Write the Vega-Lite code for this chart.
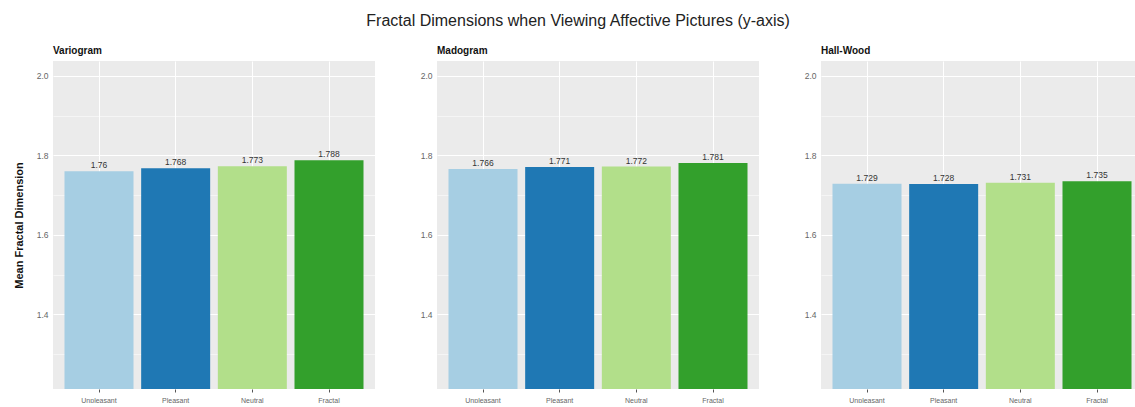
{
  "$schema": "https://vega.github.io/schema/vega-lite/v6.json",
  "title": {
    "text": "Fractal Dimensions when Viewing Affective Pictures (y-axis)",
    "fontSize": 16,
    "fontWeight": "normal",
    "color": "#222222",
    "anchor": "middle",
    "frame": "bounds",
    "offset": 17
  },
  "padding": {"left": 13, "top": 13, "right": 0, "bottom": 0},
  "datasets": {
    "fd": [
      {"method": "Variogram", "condition": "Unpleasant", "mean": 1.76},
      {"method": "Variogram", "condition": "Pleasant", "mean": 1.768},
      {"method": "Variogram", "condition": "Neutral", "mean": 1.773},
      {"method": "Variogram", "condition": "Fractal", "mean": 1.788},
      {"method": "Madogram", "condition": "Unpleasant", "mean": 1.766},
      {"method": "Madogram", "condition": "Pleasant", "mean": 1.771},
      {"method": "Madogram", "condition": "Neutral", "mean": 1.772},
      {"method": "Madogram", "condition": "Fractal", "mean": 1.781},
      {"method": "Hall-Wood", "condition": "Unpleasant", "mean": 1.729},
      {"method": "Hall-Wood", "condition": "Pleasant", "mean": 1.728},
      {"method": "Hall-Wood", "condition": "Neutral", "mean": 1.731},
      {"method": "Hall-Wood", "condition": "Fractal", "mean": 1.735}
    ]
  },
  "data": {"name": "fd"},
  "spacing": 45,
  "hconcat": [
    {
      "width": 322,
      "height": 328,
      "title": {"text": "Variogram", "frame": "group", "anchor": "start"},
      "transform": [{"filter": "datum.method === 'Variogram'"}],
      "encoding": {
        "x": {"field": "condition", "type": "nominal", "sort": ["Unpleasant", "Pleasant", "Neutral", "Fractal"], "title": null,
              "scale": {"paddingInner": 0.1, "paddingOuter": 0.15}},
        "y": {"field": "mean", "type": "quantitative",
              "scale": {"domain": [1.2125, 2.0375], "nice": false, "zero": false},
              "axis": {"title": "Mean Fractal Dimension"}}
      },
      "layer": [
        {"mark": {"type": "bar", "clip": true},
         "encoding": {"y2": {"datum": 0},
                      "color": {"field": "condition", "type": "nominal", "sort": ["Unpleasant", "Pleasant", "Neutral", "Fractal"],
                                "scale": {"domain": ["Unpleasant", "Pleasant", "Neutral", "Fractal"], "range": ["#A6CEE3", "#1F78B4", "#B2DF8A", "#33A02C"]},
                                "legend": null}}},
        {"mark": {"type": "text", "baseline": "bottom", "dy": -1, "fontSize": 8.5, "color": "#333333"},
         "encoding": {"text": {"field": "mean", "type": "quantitative"}}}
      ]
    },
    {
      "width": 322,
      "height": 328,
      "title": {"text": "Madogram", "frame": "group", "anchor": "start"},
      "transform": [{"filter": "datum.method === 'Madogram'"}],
      "encoding": {
        "x": {"field": "condition", "type": "nominal", "sort": ["Unpleasant", "Pleasant", "Neutral", "Fractal"], "title": null,
              "scale": {"paddingInner": 0.1, "paddingOuter": 0.15}},
        "y": {"field": "mean", "type": "quantitative",
              "scale": {"domain": [1.2125, 2.0375], "nice": false, "zero": false},
              "axis": {"title": null}}
      },
      "layer": [
        {"mark": {"type": "bar", "clip": true},
         "encoding": {"y2": {"datum": 0},
                      "color": {"field": "condition", "type": "nominal", "sort": ["Unpleasant", "Pleasant", "Neutral", "Fractal"],
                                "scale": {"domain": ["Unpleasant", "Pleasant", "Neutral", "Fractal"], "range": ["#A6CEE3", "#1F78B4", "#B2DF8A", "#33A02C"]},
                                "legend": null}}},
        {"mark": {"type": "text", "baseline": "bottom", "dy": -1, "fontSize": 8.5, "color": "#333333"},
         "encoding": {"text": {"field": "mean", "type": "quantitative"}}}
      ]
    },
    {
      "width": 322,
      "height": 328,
      "title": {"text": "Hall-Wood", "frame": "group", "anchor": "start"},
      "transform": [{"filter": "datum.method === 'Hall-Wood'"}],
      "encoding": {
        "x": {"field": "condition", "type": "nominal", "sort": ["Unpleasant", "Pleasant", "Neutral", "Fractal"], "title": null,
              "scale": {"paddingInner": 0.1, "paddingOuter": 0.15}},
        "y": {"field": "mean", "type": "quantitative",
              "scale": {"domain": [1.2125, 2.0375], "nice": false, "zero": false},
              "axis": {"title": null}}
      },
      "layer": [
        {"mark": {"type": "bar", "clip": true},
         "encoding": {"y2": {"datum": 0},
                      "color": {"field": "condition", "type": "nominal", "sort": ["Unpleasant", "Pleasant", "Neutral", "Fractal"],
                                "scale": {"domain": ["Unpleasant", "Pleasant", "Neutral", "Fractal"], "range": ["#A6CEE3", "#1F78B4", "#B2DF8A", "#33A02C"]},
                                "legend": null}}},
        {"mark": {"type": "text", "baseline": "bottom", "dy": -1, "fontSize": 8.5, "color": "#333333"},
         "encoding": {"text": {"field": "mean", "type": "quantitative"}}}
      ]
    }
  ],
  "config": {
    "font": "Liberation Sans",
    "view": {"fill": "#EBEBEB", "stroke": null},
    "title": {"fontSize": 10, "fontWeight": "bold", "color": "#111111", "offset": 5},
    "axis": {
      "domain": false,
      "gridColor": "#FFFFFF",
      "gridOpacity": 1,
      "tickColor": "#555555",
      "tickSize": 3,
      "labelColor": "#666666",
      "labelPadding": 2,
      "titleFontWeight": "bold",
      "titleColor": "#111111",
      "titleFontSize": 11
    },
    "axisX": {"grid": true, "gridWidth": 1, "labelFontSize": 7, "labelAngle": 0, "labelPadding": 4, "bandPosition": 0.5},
    "axisY": {
      "values": [1.3, 1.4, 1.5, 1.6, 1.7, 1.8, 1.9, 2.0],
      "labelExpr": "round(datum.value * 10) % 2 === 0 ? format(datum.value, '.1f') : ''",
      "labelFontSize": 8.5,
      "titlePadding": 12,
      "gridWidth": {"condition": {"test": "round(datum.value * 10) % 2 === 0", "value": 1}, "value": 0.5},
      "tickOpacity": {"condition": {"test": "round(datum.value * 10) % 2 === 0", "value": 1}, "value": 0}
    }
  }
}
